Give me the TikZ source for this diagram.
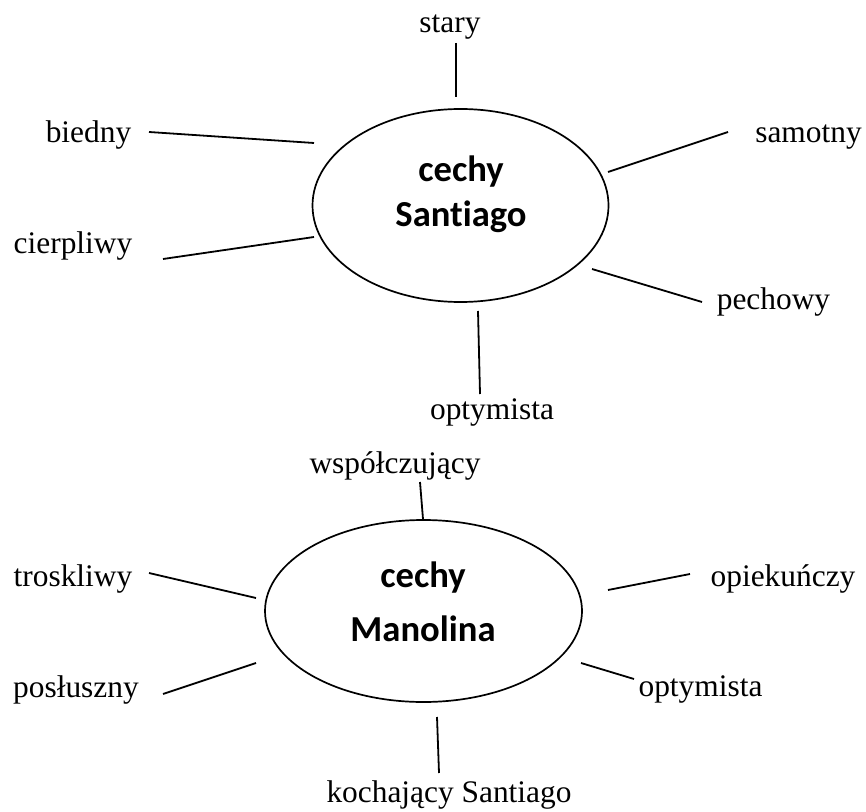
\documentclass[tikz,border=0pt]{standalone}
\usepackage{fontspec}
\setmainfont{Liberation Serif}
\newfontfamily\carlito[Ligatures=NoCommon]{Carlito}
\usepackage{tikz}
\usetikzlibrary{%
  shapes.geometric,%
  positioning%
}
\tikzset{
  trait/.style={anchor=base, inner sep=0pt, font=\fontsize{15.7}{18}\selectfont},
  oval/.style={draw, ellipse, line width=0.85pt, inner sep=0pt},
  heading/.style={align=center, inner sep=0pt, font=\carlito\bfseries\fontsize{18.3}{22.5}\selectfont},
  spoke/.style={line width=0.9pt}
}

\begin{document}
\begin{tikzpicture}[x=0.5pt, y=-0.5pt]
\useasboundingbox (0,0) rectangle (866,812);

% cechy Santiago
\node[oval, minimum width=148pt, minimum height=96.5pt] (santiago) at (460.5,205.5) {};
\node[heading] (santiagoText) at (461,194) {cechy\\Santiago};

\node[trait] (stary) at (450,33) {stary};
\node[trait] (biedny) at (88.5,143) {biedny};
\node[trait] (cierpliwy) at (73,254) {cierpliwy};
\node[trait] (samotny) at (808.5,143) {samotny};
\node[trait] (pechowy) at (773.5,310) {pechowy};
\node[trait] (optymistaS) at (492,419) {optymista};

\coordinate (staryA) at (456,43);     \coordinate (staryB) at (456,97);
\coordinate (biednyA) at (149,132);   \coordinate (biednyB) at (314,143);
\coordinate (cierpliwyA) at (163,259); \coordinate (cierpliwyB) at (314,237);
\coordinate (samotnyA) at (728,132);  \coordinate (samotnyB) at (608,172);
\coordinate (pechowyA) at (702,302);  \coordinate (pechowyB) at (592,269);
\coordinate (optymistaSA) at (480,394); \coordinate (optymistaSB) at (478,311);

\draw[spoke]
	(staryA) edge (staryB)
	(biednyA) edge (biednyB)
	(cierpliwyA) edge (cierpliwyB)
	(samotnyA) edge (samotnyB)
	(pechowyA) edge (pechowyB)
	(optymistaSA) edge (optymistaSB)
;

% cechy Manolina
\node[oval, minimum width=158.5pt, minimum height=91pt] (manolin) at (423.5,611) {};
\node[heading, font=\carlito\bfseries\fontsize{18.3}{27}\selectfont] (manolinText) at (423,602) {cechy\\Manolina};

\node[trait] (wspolczujacy) at (395,473) {współczujący};
\node[trait] (troskliwy) at (73,586) {troskliwy};
\node[trait] (posluszny) at (76,697) {posłuszny};
\node[trait] (opiekunczy) at (783,586) {opiekuńczy};
\node[trait] (optymistaM) at (700.5,696) {optymista};
\node[trait] (kochajacy) at (449,802) {kochający Santiago};

\coordinate (wspolczujacyA) at (420,482); \coordinate (wspolczujacyB) at (423,519);
\coordinate (troskliwyA) at (149,573);  \coordinate (troskliwyB) at (256,598);
\coordinate (poslusznyA) at (163,694);  \coordinate (poslusznyB) at (256,663);
\coordinate (opiekunczyA) at (690,574); \coordinate (opiekunczyB) at (608,590);
\coordinate (optymistaMA) at (634,679); \coordinate (optymistaMB) at (581,663);
\coordinate (kochajacyA) at (439,773);  \coordinate (kochajacyB) at (437,717);

\draw[spoke]
	(wspolczujacyA) edge (wspolczujacyB)
	(troskliwyA) edge (troskliwyB)
	(poslusznyA) edge (poslusznyB)
	(opiekunczyA) edge (opiekunczyB)
	(optymistaMA) edge (optymistaMB)
	(kochajacyA) edge (kochajacyB)
;
\end{tikzpicture}
\end{document}
